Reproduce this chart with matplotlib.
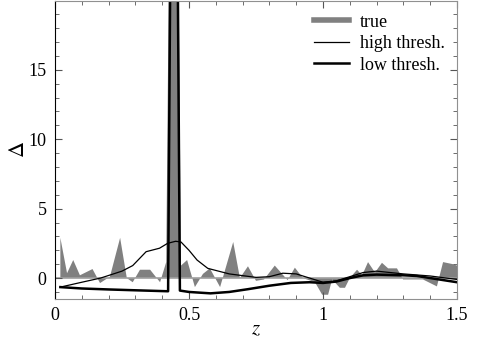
import numpy as np
import matplotlib
matplotlib.use('Agg')
from matplotlib import pyplot as plt
from matplotlib.ticker import MultipleLocator

plt.rcParams['font.family'] = ['Liberation Serif', 'DejaVu Serif']
plt.rcParams['mathtext.fontset'] = 'stix'

# true signal (gray fill)
z_true = [0.020, 0.045, 0.068, 0.093, 0.140, 0.168, 0.205, 0.243, 0.268, 0.290,
          0.317, 0.355, 0.392, 0.415, 0.444, 0.470, 0.493, 0.522, 0.552, 0.578,
          0.616, 0.665, 0.690, 0.720, 0.750, 0.780, 0.820, 0.868, 0.895, 0.925,
          0.970, 0.997, 1.019, 1.034, 1.063, 1.082, 1.100, 1.127, 1.146, 1.168,
          1.194, 1.220, 1.243, 1.276, 1.299, 1.350, 1.373, 1.425, 1.448, 1.485, 1.500]
d_true = [2.9, 0.35, 1.3, 0.2, 0.65, -0.36, 0.1, 2.9, 0.0, -0.3,
          0.6, 0.6, -0.3, 1.15, 62.0, 0.9, 1.3, -0.65, 0.3, 0.7,
          -0.65, 2.6, 0.0, 0.85, -0.2, -0.1, 0.9, -0.15, 0.75, 0.0,
          -0.3, -1.2, -1.2, -0.1, -0.7, -0.7, 0.0, 0.6, 0.2, 1.15,
          0.4, 1.1, 0.7, 0.7, -0.1, -0.1, -0.1, -0.6, 1.15, 1.0, 0.9]

# high threshold reconstruction
z_high = [0.02, 0.10, 0.17, 0.25, 0.29, 0.34, 0.39, 0.42, 0.45, 0.47, 0.50,
          0.53, 0.57, 0.65, 0.75, 0.80, 0.85, 0.90, 0.95, 1.00, 1.05, 1.10,
          1.15, 1.20, 1.30, 1.40, 1.50]
d_high = [-0.65, -0.3, 0.0, 0.5, 0.9, 1.9, 2.15, 2.5, 2.65, 2.6, 2.0,
          1.3, 0.7, 0.3, 0.05, 0.1, 0.35, 0.3, 0.0, -0.3, -0.2, 0.1,
          0.4, 0.5, 0.3, 0.15, -0.1]

# low threshold reconstruction
z_low = [0.02, 0.10, 0.20, 0.30, 0.422, 0.444, 0.466, 0.50, 0.58, 0.65, 0.72,
         0.80, 0.88, 0.95, 1.00, 1.05, 1.10, 1.15, 1.20, 1.30, 1.35, 1.40,
         1.45, 1.50]
d_low = [-0.65, -0.75, -0.82, -0.88, -0.95, 62.0, -0.9, -1.0, -1.1, -1.0, -0.8,
         -0.55, -0.35, -0.3, -0.35, -0.25, 0.0, 0.2, 0.25, 0.2, 0.15, 0.0,
         -0.15, -0.3]

fig = plt.figure(figsize=(4.85, 3.5), dpi=100)
ax = fig.add_axes([0.1134, 0.146, 0.8289, 0.851])

ax.fill_between(z_true, 0, d_true, color='#808080', lw=0)
ax.axhline(0, color='#a0a0a0', lw=1.2, zorder=1)
ax.plot([], [], color='#808080', lw=4, label='true')
ax.plot(z_high, d_high, color='black', lw=0.9, label='high thresh.')
ax.plot(z_low, d_low, color='black', lw=1.8, label='low thresh.')

ax.set_xlim(0, 1.5)
ax.set_ylim(-1.5, 19.95)
ax.xaxis.set_major_locator(MultipleLocator(0.5))
ax.xaxis.set_minor_locator(MultipleLocator(0.1))
ax.yaxis.set_major_locator(MultipleLocator(5))
ax.yaxis.set_minor_locator(MultipleLocator(1))
ax.set_xticks([0, 0.5, 1, 1.5])
ax.set_xticklabels(['0', '0.5', '1', '1.5'])
ax.tick_params(which='both', direction='in', top=True, right=True, labelsize=13, pad=6)
ax.tick_params(which='major', length=5, color='#555555')
ax.tick_params(which='minor', length=3, color='#555555')
for s in ['top', 'right', 'bottom']:
    ax.spines[s].set_color('#909090')
ax.spines['left'].set_color('black')

ax.set_xlabel('$z$', fontsize=15, labelpad=-3)
ax.set_ylabel('$\\Delta$', fontsize=16, labelpad=0)

ax.legend(loc='upper right', frameon=False, fontsize=13, handlelength=1.9,
          borderaxespad=0.3, labelspacing=0.25, handletextpad=0.6)

fig.savefig('out.png', dpi=100)
